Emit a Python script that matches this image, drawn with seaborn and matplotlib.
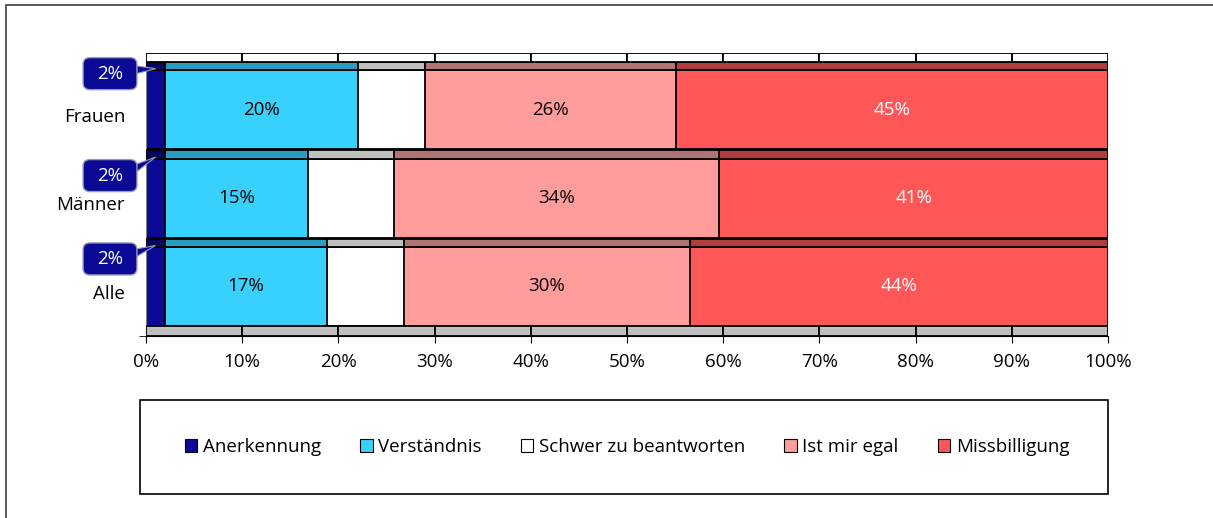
import matplotlib
matplotlib.use("Agg")
import matplotlib.pyplot as plt
import matplotlib.patches as mpatches
import numpy as np
import pandas as pd
import seaborn as sns

# data
groups = ["Frauen", "Männer", "Alle"]
answers = ["Anerkennung", "Verständnis", "Schwer zu beantworten", "Ist mir egal", "Missbilligung"]
anerkennung = [2.0, 2.0, 2.0]
verstaendnis = [20.0, 14.8, 16.8]
schwer = [7.0, 9.0, 8.0]
egal = [26.1, 33.8, 29.7]
missbilligung = [44.9, 40.4, 43.5]
labels = {
    "Anerkennung": ["2%", "2%", "2%"],
    "Verständnis": ["20%", "15%", "17%"],
    "Schwer zu beantworten": ["", "", ""],
    "Ist mir egal": ["26%", "34%", "30%"],
    "Missbilligung": ["45%", "41%", "44%"],
}
xticks = [0, 10, 20, 30, 40, 50, 60, 70, 80, 90, 100]

colors = ["#0a0a96", "#38d0fc", "#ffffff", "#ff9c9c", "#ff5757"]
top_colors = ["#060660", "#2a9cc0", "#c0c0c0", "#b07474", "#b03c3c"]
label_colors = ["white", "black", "black", "black", "white"]
FS = 13.5

df = pd.DataFrame({"group": groups, "Anerkennung": anerkennung, "Verständnis": verstaendnis,
                   "Schwer zu beantworten": schwer, "Ist mir egal": egal,
                   "Missbilligung": missbilligung})
cum = df[answers].cumsum(axis=1)
starts = cum - df[answers]

plt.rcParams["font.family"] = ["Open Sans", "DejaVu Sans"]
fig = plt.figure(figsize=(12.13, 5.18), dpi=100)
ax = fig.add_axes([146 / 1213, 1 - 336 / 518, 962 / 1213, 283 / 518])

front_h = 0.893
top_h = 0.094
pos = np.arange(len(groups))

# front faces: cumulative bars drawn from the back
for ans, col in reversed(list(zip(answers, colors))):
    sns.barplot(data=cum, x=ans, y=df["group"], orient="h", color=col, width=front_h,
                edgecolor="black", linewidth=1.3, ax=ax, saturation=1)

# top faces of the bars (3d look)
for ans, col in zip(answers, top_colors):
    ax.barh(pos - front_h / 2 - top_h / 2, df[ans], left=starts[ans], height=top_h,
            color=col, edgecolor="black", linewidth=1.3, zorder=3)

# back wall strip and floor strip
y_wall = -front_h / 2 - top_h
y_floor = len(groups) - 1 + front_h / 2
steps = np.diff(xticks)
ax.barh([y_wall - 0.05] * len(steps), steps, left=xticks[:-1], height=0.1,
        color="white", edgecolor="black", linewidth=1.3, zorder=3)
ax.barh([y_floor + 0.057] * len(steps), steps, left=xticks[:-1], height=0.114,
        color="#c0c0c0", edgecolor="black", linewidth=1.3, zorder=3)

# segment labels
for ans, lc in zip(answers[1:], label_colors[1:]):
    for i in range(len(groups)):
        txt = labels[ans][i]
        if txt:
            ax.text(starts[ans][i] + df[ans][i] / 2, pos[i], txt, ha="center", va="center",
                    fontsize=FS, color=lc, zorder=5)

# callouts for the small Anerkennung share
box_dy = [-0.407, -0.254, -0.311]
bw, bh, bx = 5.6, 0.362, -3.74
for i in range(len(groups)):
    cy = pos[i] + box_dy[i]
    tip = (starts["Anerkennung"][i] + 1.0, pos[i] - 0.463)
    tri = mpatches.Polygon([(bx + bw / 2 - 0.8, cy - 0.1), (bx + bw / 2 - 0.8, cy + 0.02), tip],
                           closed=True, fc="#0a0a96", ec="#9a9ab0", lw=0.8,
                           clip_on=False, zorder=6)
    ax.add_patch(tri)
    box = mpatches.FancyBboxPatch((bx - bw / 2, cy - bh / 2), bw, bh,
                                  boxstyle="round,pad=0,rounding_size=0.7",
                                  mutation_aspect=0.109, fc="#0a0a96", ec="#9a9ab0", lw=1,
                                  clip_on=False, zorder=7)
    ax.add_patch(box)
    ax.text(bx, cy, labels["Anerkennung"][i], ha="center", va="center", fontsize=FS,
            color="white", zorder=8)

ax.set_xlim(0, 100)
ax.set_ylim(y_floor + 0.114, y_wall - 0.1)
ax.set_xticks(xticks, [f"{t}%" for t in xticks], fontsize=FS)
ax.set_yticks(pos + 0.06, groups, fontsize=FS)
ax.set_yticks([y_floor + 0.114], minor=True)
ax.tick_params(axis="y", which="major", length=0, pad=15)
ax.tick_params(axis="y", which="minor", length=5)
ax.tick_params(axis="x", length=5, pad=7)
ax.set_xlabel("")
ax.set_ylabel("")
for side in ["top", "right"]:
    ax.spines[side].set_visible(False)
ax.spines["left"].set_color("#808080")
ax.spines["bottom"].set_color("black")

# legend box
fig.patches.append(mpatches.Rectangle((140 / 1213, 1 - 494 / 518), 968 / 1213, 94 / 518,
                                      transform=fig.transFigure, fill=False, ec="black", lw=1.2))
handles = [mpatches.Patch(fc=c, ec="black", lw=0.8) for c in colors]
fig.legend(handles, answers, loc="center", bbox_to_anchor=(0.517, 0.137), ncol=5,
           frameon=False, fontsize=FS, handlelength=0.65, handleheight=0.65,
           handletextpad=0.3, columnspacing=2.1)

# outer frame
fig.patches.append(mpatches.Rectangle((6 / 1213, -0.05), 1.2, 1 - 5 / 518 + 0.05,
                                      transform=fig.transFigure, fill=False, ec="#404040", lw=1.2))

fig.savefig("out.png", dpi=100)
